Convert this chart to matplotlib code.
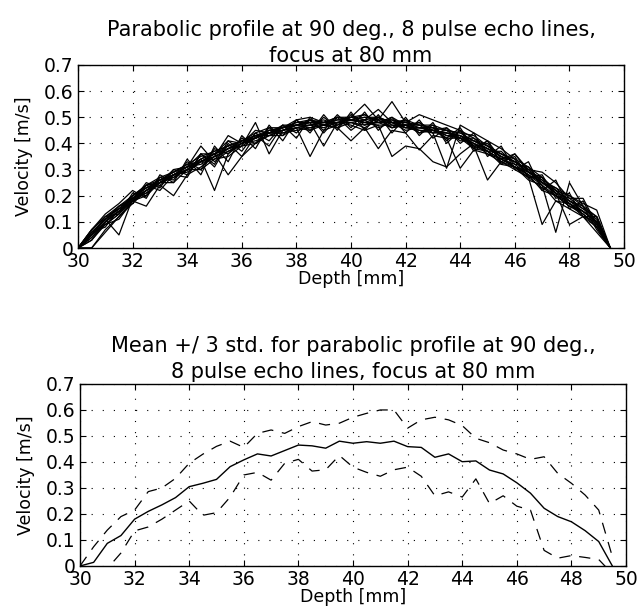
import numpy as np
import matplotlib
matplotlib.use("Agg")
from matplotlib import pyplot as plt
from matplotlib.ticker import FuncFormatter

plt.rcParams['font.family'] = ['DejaVu Sans']

# depth samples [mm]
depth = np.arange(30, 50, 0.5)

# velocity profiles [m/s], one list per estimated profile
p01 = [0, .06, .11, .16, .19, .24, .25, .30, .31, .36, .36, .41, .40, .45, .44, .47, .47, .49, .47, .50,
       .49, .51, .48, .50, .47, .48, .45, .46, .42, .42, .37, .37, .32, .31, .25, .23, .18, .16, .10, 0]
p02 = [0, .04, .09, .13, .19, .21, .25, .27, .30, .34, .22, .36, .40, .41, .43, .45, .46, .47, .46, .48,
       .48, .49, .50, .47, .47, .45, .45, .43, .42, .39, .37, .34, .31, .28, .24, .20, .17, .13, .09, 0]
p03 = [0, 0, .07, .12, .18, .22, .24, .28, .29, .33, .36, .28, .35, .40, .44, .44, .46, .35, .45, .47,
       .49, .48, .48, .46, .47, .47, .44, .44, .43, .40, .36, .34, .32, .28, .22, .20, .16, .14, .10, 0]
p04 = [0, .07, .12, .16, .20, .24, .26, .29, .31, .39, .33, .37, .39, .48, .36, .45, .47, .48, .49, .47,
       .50, .51, .48, .49, .46, .48, .44, .45, .41, .41, .38, .35, .33, .29, .27, .21, .19, .15, .11, 0]
p05 = [0, .05, .10, .14, .19, .23, .25, .28, .31, .32, .35, .38, .40, .42, .44, .46, .47, .47, .48, .48,
       .47, .45, .47, .35, .39, .38, .33, .31, .36, .40, .37, .34, .31, .28, .25, .21, .17, .14, .10, 0]
p06 = [0, .05, .11, .05, .19, .22, .26, .28, .30, .34, .36, .39, .41, .42, .45, .46, .48, .48, .39, .48,
       .50, .55, .49, .56, .48, .47, .47, .45, .44, .41, .39, .36, .33, .30, .26, .20, .18, .14, .10, 0]
p07 = [0, .04, .10, .14, .18, .21, .25, .27, .30, .33, .35, .37, .40, .43, .43, .45, .46, .47, .48, .49,
       .49, .50, .49, .49, .48, .46, .46, .43, .43, .39, .26, .33, .30, .27, .09, .18, .15, .12, .08, 0]
p08 = [0, .06, .11, .15, .19, .23, .26, .29, .32, .33, .36, .38, .41, .42, .45, .45, .47, .48, .47, .49,
       .49, .48, .50, .48, .47, .46, .45, .44, .43, .41, .38, .36, .33, .30, .24, .06, .25, .16, .12, 0]
p09 = [0, .05, .09, .13, .18, .16, .24, .20, .28, .31, .35, .43, .40, .42, .44, .44, .45, .46, .47, .48,
       .48, .47, .48, .48, .46, .46, .45, .44, .42, .40, .38, .35, .31, .29, .25, .22, .17, .14, .10, 0]
p10 = [0, .05, .10, .14, .20, .23, .25, .28, .30, .33, .34, .38, .39, .42, .44, .45, .47, .46, .47, .46,
       .41, .46, .38, .45, .44, .375, .43, .42, .305, .375, .36, .33, .31, .27, .23, .20, .16, .13, .08, 0]
p11 = [0, .06, .11, .14, .19, .22, .26, .28, .31, .34, .37, .39, .41, .43, .45, .46, .48, .49, .48, .50,
       .49, .50, .50, .48, .48, .51, .49, .47, .45, .42, .39, .35, .33, .29, .25, .21, .09, .12, .06, 0]
p12 = [0, .03, .09, .11, .18, .20, .25, .25, .30, .30, .34, .35, .39, .40, .43, .43, .46, .45, .47, .46,
       .48, .46, .49, .46, .47, .44, .45, .42, .42, .38, .37, .32, .31, .26, .24, .18, .17, .12, .10, 0]
p13 = [0, 0, .06, .12, .17, .22, .25, .28, .31, .33, .36, .38, .41, .43, .44, .46, .47, .48, .48, .48,
       .49, .48, .47, .47, .46, .45, .44, .305, .47, .44, .41, .38, .34, .31, .27, .22, .18, .15, .12, 0]
p14 = [0, .07, .12, .15, .20, .24, .27, .29, .32, .35, .37, .39, .41, .44, .46, .46, .49, .50, .48, .50,
       .50, .49, .53, .48, .49, .47, .46, .45, .44, .43, .39, .36, .34, .27, .27, .22, .20, .17, .145, 0]
p15 = [0, .05, .12, .13, .21, .20, .27, .26, .33, .30, .38, .36, .42, .40, .46, .43, .49, .45, .50, .46,
       .51, .47, .50, .46, .49, .44, .47, .41, .45, .39, .40, .33, .35, .27, .28, .19, .21, .12, .12, 0]
p16 = [0, .03, .10, .16, .18, .25, .23, .30, .28, .36, .32, .41, .37, .44, .41, .47, .44, .49, .45, .51,
       .46, .52, .45, .50, .44, .49, .42, .46, .40, .44, .35, .39, .30, .33, .22, .26, .15, .18, .08, 0]
p17 = [0, .06, .08, .15, .17, .24, .22, .28, .27, .36, .31, .40, .35, .43, .39, .47, .42, .50, .44, .50,
       .45, .49, .46, .48, .45, .46, .46, .42, .46, .38, .41, .32, .36, .29, .26, .23, .20, .16, .07, 0]
p18 = [0, .07, .13, .17, .22, .19, .28, .25, .34, .28, .39, .33, .43, .38, .47, .41, .49, .44, .51, .45,
       .52, .45, .51, .44, .50, .43, .48, .40, .45, .37, .41, .34, .36, .30, .29, .25, .19, .19, .09, 0]
profiles = [p01, p02, p03, p04, p05, p06, p07, p08, p09, p10, p11, p12, p13, p14, p15, p16, p17, p18]

# mean and mean +/- 3 std
mean_v = [0, .014, .087, .117, .18, .21, .235, .263, .305, .318, .333, .382, .408, .431, .423, .444, .465, .462, .453, .48,
          .472, .478, .472, .48, .459, .456, .418, .431, .401, .404, .369, .354, .32, .28, .222, .19, .17, .136, .094, 0]
upper_v = [0, .074, .138, .19, .215, .286, .30, .337, .395, .43, .46, .48, .456, .51, .523, .51, .536, .555, .542, .549,
           .572, .587, .60, .60, .53, .562, .572, .562, .54, .491, .474, .446, .431, .41, .42, .356, .318, .273, .215, .036]
lower_v = [0, -.03, -.01, .05, .135, .15, .18, .215, .25, .195, .205, .265, .35, .36, .33, .395, .41, .365, .37, .425,
           .38, .36, .345, .37, .38, .345, .27, .285, .265, .335, .24, .27, .23, .215, .06, .03, .04, .033, .025, -.03]

tick_fs = 13.5
label_fs = 12.5
title_fs = 15


def style_axes(ax):
    ax.set_xlim(30, 50)
    ax.set_ylim(0, 0.7)
    ax.set_xticks(np.arange(30, 51, 2))
    ax.set_yticks(np.arange(0, 0.71, 0.1))
    ax.yaxis.set_major_formatter(FuncFormatter(lambda v, p: '0' if abs(v) < 1e-9 else f'{v:.1f}'))
    ax.tick_params(direction='in', top=True, right=True, labelsize=tick_fs, length=4, pad=3)
    ax.grid(True, color='black', linestyle=(0, (1, 9)), linewidth=0.8)
    for s in ax.spines.values():
        s.set_linewidth(1.0)
    ax.set_xlabel('Depth [mm]', fontsize=label_fs, labelpad=-1)
    ax.set_ylabel('Velocity [m/s]', fontsize=label_fs, labelpad=8)


fig = plt.figure(figsize=(6.42, 6.16), dpi=100)

ax1 = fig.add_axes([0.1215, 0.5974, 0.8505, 0.2971])
for p in profiles:
    ax1.plot(depth, p, color='black', linewidth=0.9)
style_axes(ax1)
ax1.set_title('Parabolic profile at 90 deg., 8 pulse echo lines,\nfocus at 80 mm',
              fontsize=title_fs, pad=2, linespacing=1.4)

ax2 = fig.add_axes([0.1246, 0.0812, 0.8505, 0.2955])
ax2.plot(depth, mean_v, color='black', linewidth=1.0)
ax2.plot(depth, upper_v, color='black', linewidth=0.9, linestyle=(0, (9, 7)))
ax2.plot(depth, lower_v, color='black', linewidth=0.9, linestyle=(0, (9, 7)))
style_axes(ax2)
ax2.set_title('Mean +/ 3 std. for parabolic profile at 90 deg.,\n8 pulse echo lines, focus at 80 mm',
              fontsize=title_fs, pad=4, linespacing=1.4)

fig.savefig('out.png', dpi=100)
